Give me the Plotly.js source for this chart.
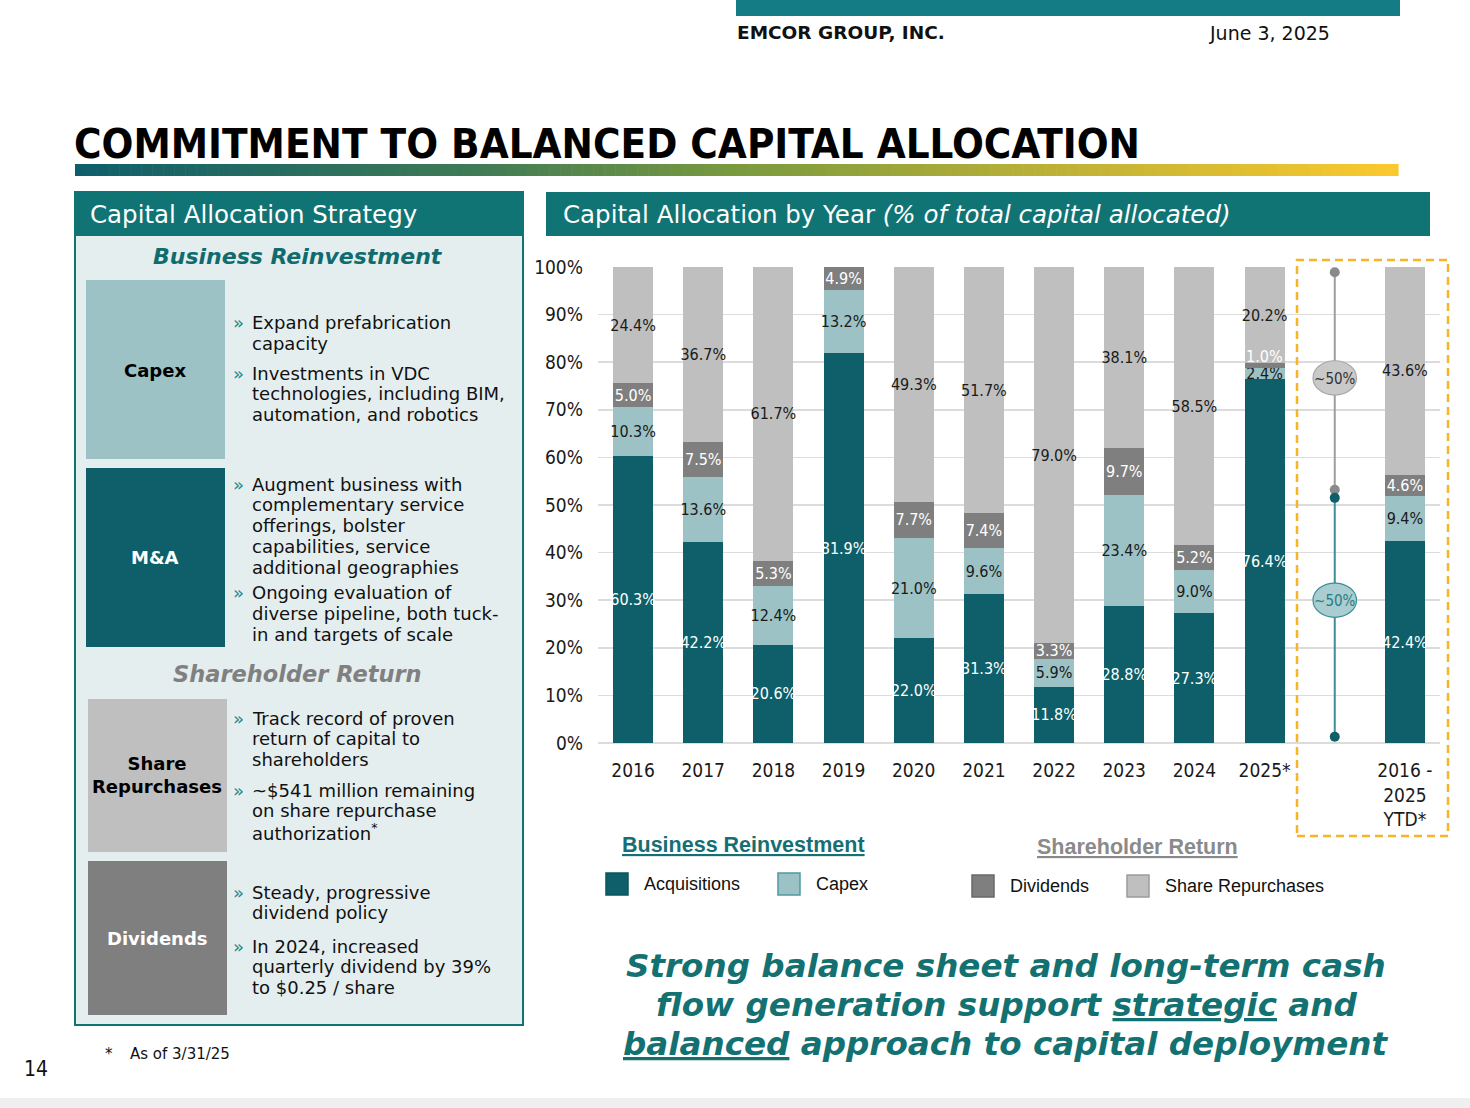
<!DOCTYPE html>
<html>
<head>
<meta charset="utf-8">
<script src="https://cdn.plot.ly/plotly-3.0.1.min.js"></script>
<style>
  html, body { margin: 0; padding: 0; background: #ffffff; }
  #chart { width: 1470px; height: 1108px; }
</style>
</head>
<body>
<div id="chart"></div>
<script>
// ---------------- DATA ----------------
const categories = ['2016', '2017', '2018', '2019', '2020', '2021', '2022', '2023', '2024', '2025*', ' ', 'total'];
const labelledCategories = ['2016', '2017', '2018', '2019', '2020', '2021', '2022', '2023', '2024', '2025*', 'total'];
const tickLabels = ['2016', '2017', '2018', '2019', '2020', '2021', '2022', '2023', '2024', '2025*', '2016 -<br>2025<br>YTD*'];
const barCategories = ['2016', '2017', '2018', '2019', '2020', '2021', '2022', '2023', '2024', '2025*', 'total'];
const acquisitions = [60.3, 42.2, 20.6, 81.9, 22.0, 31.3, 11.8, 28.8, 27.3, 76.4, 42.4];
const capex = [10.3, 13.6, 12.4, 13.2, 21.0, 9.6, 5.9, 23.4, 9.0, 2.4, 9.4];
const dividends = [5.0, 7.5, 5.3, 4.9, 7.7, 7.4, 3.3, 9.7, 5.2, 1.0, 4.6];
const repurchases = [24.4, 36.7, 61.7, 0, 49.3, 51.7, 79.0, 38.1, 58.5, 20.2, 43.6];
const seriesNames = ['Acquisitions', 'Capex', 'Dividends', 'Share Repurchases'];
const shareholderBracket = [98.9, 53.2];   // gray "~50%" bracket (top, bottom)
const reinvestBracket = [51.5, 1.3];       // teal "~50%" bracket (top, bottom)
const bracketLabel = '~50%';

// ---------------- STYLE ----------------
const W = 1470, H = 1108;
const X = p => p / W;
const Y = p => 1 - p / H;
const NARROW = '"Liberation Sans Narrow", "Arial Narrow", "DejaVu Sans Condensed", sans-serif';
const ARIAL = '"Liberation Sans", Arial, sans-serif';
const VERD = '"DejaVu Sans", Verdana, sans-serif';
const COND = '"DejaVu Sans Condensed", "DejaVu Sans", sans-serif';
const TEAL = '#117474';
const colors = ['#0e5f69', '#9cc2c5', '#7f7f7f', '#bfbfbf'];
const labelColors = ['#ffffff', '#1a1a1a', '#ffffff', '#1a1a1a'];
const borderColors = ['#0b5560', '#4f9aa0', '#6a6a6a', '#9c9c9c'];
const SMALL = 2; // segments thinner than this get their label placed just above

const seriesValues = [acquisitions, capex, dividends, repurchases];
const annotations = [];
const shapes = [];

const traces = seriesValues.map((vals, i) => {
  const xs = [], ys = [], tx = [];
  vals.forEach((v, k) => {
    if (v > 0) {
      xs.push(barCategories[k]); ys.push(v);
      if (v < SMALL && i > 1) {
        tx.push('');
        let base = 0; for (let s = 0; s <= i; s++) base += seriesValues[s][k];
        annotations.push({ xref: 'x', yref: 'y', x: barCategories[k], y: base + 1.5, text: v.toFixed(1) + '%',
          showarrow: false, yanchor: 'middle', font: { family: NARROW, size: 16, color: labelColors[i] } });
      } else {
        tx.push(v.toFixed(1) + '%');
      }
    }
  });
  return {
    type: 'bar', name: seriesNames[i], x: xs, y: ys,
    marker: { color: colors[i], line: { width: 0 } },
    text: tx, textposition: 'inside', insidetextanchor: 'middle', constraintext: 'none', textangle: 0,
    insidetextfont: { family: NARROW, size: 16, color: labelColors[i] },
    hoverinfo: 'skip', showlegend: false
  };
});

traces.push({
  type: 'scatter', mode: 'lines+markers',
  x: [' ', ' '], y: shareholderBracket,
  line: { color: '#9e9e9e', width: 2 },
  marker: { color: '#8a8a8a', size: 10 },
  hoverinfo: 'skip', showlegend: false
});
traces.push({
  type: 'scatter', mode: 'lines+markers',
  x: [' ', ' '], y: reinvestBracket,
  line: { color: '#3b8f96', width: 2 },
  marker: { color: '#0e5f69', size: 10 },
  hoverinfo: 'skip', showlegend: false
});

function rect(x0, y0, x1, y1, fill, line, lw, layer) {
  shapes.push({ type: 'rect', xref: 'paper', yref: 'paper', x0: X(x0), x1: X(x1), y0: Y(y1), y1: Y(y0),
    fillcolor: fill, line: { color: line || fill, width: lw || 0 }, layer: layer || 'below' });
}
function txt(x, y, text, font, xanchor, extra) {
  annotations.push(Object.assign({ xref: 'paper', yref: 'paper', x: X(x), y: Y(y), text: text, showarrow: false,
    xanchor: xanchor || 'left', yanchor: 'middle', font: font, align: xanchor === 'center' ? 'center' : 'left', borderpad: 0 }, extra || {}));
}

// top header
rect(736, 0, 1400, 16, '#137c84');
txt(736, 33, '<b>EMCOR GROUP, INC.</b>', { family: VERD, size: 18.5, color: '#111' });
txt(1208, 33, 'June 3, 2025', { family: VERD, size: 19, color: '#111' });

// title + gradient underline
txt(73, 143, '<b>COMMITMENT TO BALANCED CAPITAL ALLOCATION</b>', { family: COND, size: 41.7, color: '#000' });
(function () {
  const stops = [[0, [14, 94, 107]], [0.3, [62, 122, 85]], [0.5, [122, 154, 63]], [0.75, [191, 178, 54]], [1, [251, 201, 46]]];
  const n = 120, x0 = 75, x1 = 1398, w = (x1 - x0) / n;
  for (let i = 0; i < n; i++) {
    const t = (i + 0.5) / n;
    let k = 0; while (k < stops.length - 2 && t > stops[k + 1][0]) k++;
    const a = stops[k], b = stops[k + 1];
    const f = (t - a[0]) / (b[0] - a[0]);
    const c = a[1].map((v, j) => Math.round(v + (b[1][j] - v) * f));
    rect(x0 + i * w, 164, x0 + (i + 1) * w + 0.6, 176, 'rgb(' + c.join(',') + ')');
  }
})();

// left panel
rect(75, 192, 523, 1025, '#e5eeef', TEAL, 2);
rect(75, 192, 523, 236, TEAL, TEAL, 0);
txt(89, 215, 'Capital Allocation Strategy', { family: VERD, size: 24.5, color: '#fff' });
txt(298, 257, '<b><i>Business Reinvestment</i></b>', { family: VERD, size: 22, color: '#0f6b6e' }, 'center');
rect(86, 280, 225, 459, colors[1]);
txt(155, 370, '<b>Capex</b>', { family: VERD, size: 18, color: '#000' }, 'center');
rect(86, 468, 225, 647, colors[0]);
txt(155, 557, '<b>M&A</b>', { family: VERD, size: 18, color: '#fff' }, 'center');
txt(297, 674, '<b><i>Shareholder Return</i></b>', { family: VERD, size: 22.5, color: '#808080' }, 'center');
rect(88, 699, 227, 852, colors[3]);
txt(157, 775, '<b>Share<br>Repurchases</b>', { family: VERD, size: 18, color: '#000' }, 'center');
rect(88, 861, 227, 1015, colors[2]);
txt(157, 938, '<b>Dividends</b>', { family: VERD, size: 18, color: '#fff' }, 'center');

const bullets = [
  { y0: 323, lines: ['Expand prefabrication', 'capacity'] },
  { y0: 373, lines: ['Investments in VDC', 'technologies, including BIM,', 'automation, and robotics'] },
  { y0: 484, lines: ['Augment business with', 'complementary service', 'offerings, bolster', 'capabilities, service', 'additional geographies'] },
  { y0: 593, lines: ['Ongoing evaluation of', 'diverse pipeline, both tuck-', 'in and targets of scale'] },
  { y0: 718, lines: ['Track record of proven', 'return of capital to', 'shareholders'] },
  { y0: 790, lines: ['~$541 million remaining', 'on share repurchase', 'authorization<sup>*</sup>'] },
  { y0: 892, lines: ['Steady, progressive', 'dividend policy'] },
  { y0: 946, lines: ['In 2024, increased', 'quarterly dividend by 39%', 'to $0.25 / share'] }
];
bullets.forEach(b => {
  txt(232, b.y0, '»', { family: VERD, size: 18, color: '#1b8a90' });
  b.lines.forEach((l, j) => txt(251, b.y0 + j * 20.8, l, { family: VERD, size: 18, color: '#111' }));
});
txt(104, 1054, '*', { family: VERD, size: 15, color: '#111' });
txt(129, 1054, 'As of 3/31/25', { family: VERD, size: 15, color: '#111' });
txt(36, 1069, '14', { family: NARROW, size: 21, color: '#111' }, 'center');

// right header
rect(546, 192, 1430, 236, TEAL);
txt(562, 215, 'Capital Allocation by Year <i>(% of total capital allocated)</i>', { family: VERD, size: 24.5, color: '#fff' });

// dashed box
shapes.push({ type: 'rect', xref: 'paper', yref: 'paper', x0: X(1297), x1: X(1448), y0: Y(836), y1: Y(260),
  line: { color: '#f6b429', width: 2.5, dash: '8px,5px' }, fillcolor: 'rgba(0,0,0,0)', layer: 'above' });

// ~50% ellipses
shapes.push({ type: 'circle', xref: 'x', yref: 'y', x0: 9.69, x1: 10.31, y0: 73.1, y1: 80.3,
  fillcolor: '#c9c9c9', line: { color: '#a8a8a8', width: 1.2 }, layer: 'above',
  label: { text: bracketLabel, font: { family: NARROW, size: 15, color: '#333' }, textposition: 'middle center' } });
shapes.push({ type: 'circle', xref: 'x', yref: 'y', x0: 9.69, x1: 10.31, y0: 26.4, y1: 33.6,
  fillcolor: '#a9cdd0', line: { color: '#3b8f96', width: 1.2 }, layer: 'above',
  label: { text: bracketLabel, font: { family: NARROW, size: 15, color: '#2a7c83' }, textposition: 'middle center' } });

// legend (group titles + swatches) built from series arrays
txt(743, 845, '<b><u>Business Reinvestment</u></b>', { family: ARIAL, size: 21.5, color: '#166f73' }, 'center');
txt(1137, 847, '<b><u>Shareholder Return</u></b>', { family: ARIAL, size: 21.5, color: '#8a8a8a' }, 'center');
const legendPos = [[606, 884], [778, 884], [972, 886], [1127, 886]];
seriesNames.forEach((nm, i) => {
  const [lx, ly] = legendPos[i];
  rect(lx, ly - 11, lx + 22, ly + 11, colors[i], borderColors[i], 1.5, 'above');
  txt(lx + 37, ly, nm, { family: ARIAL, size: 18, color: '#111' });
});

// bottom statement
const stFont = { family: VERD, size: 32.6, color: '#137171' };
txt(1006, 966, '<b><i>Strong balance sheet and long-term cash</i></b>', stFont, 'center');
txt(1006, 1005, '<b><i>flow generation support <u>strategic</u> and</i></b>', stFont, 'center');
txt(1006, 1044, '<b><i><u>balanced</u> approach to capital deployment</i></b>', stFont, 'center');

// footer band
rect(0, 1098, 1470, 1108, '#efefef');

const layout = {
  width: W, height: H, autosize: false,
  margin: { l: 0, r: 0, t: 0, b: 0, pad: 0 },
  paper_bgcolor: '#ffffff', plot_bgcolor: 'rgba(0,0,0,0)',
  barmode: 'stack', bargap: 0.43,
  showlegend: false,
  xaxis: {
    domain: [X(598), X(1440)], type: 'category', categoryorder: 'array', categoryarray: categories,
    range: [-0.5, categories.length - 0.5],
    tickvals: labelledCategories, ticktext: tickLabels, ticks: '', showgrid: false, showline: false, zeroline: false,
    tickfont: { family: NARROW, size: 19, color: '#1a1a1a' }, ticklabelstandoff: 14, fixedrange: true
  },
  yaxis: {
    domain: [Y(743), Y(267)], range: [0, 100], dtick: 10, ticksuffix: '%', ticks: '',
    showgrid: true, gridcolor: '#dcdcdc', gridwidth: 1.5, zeroline: true, zerolinecolor: '#dcdcdc', zerolinewidth: 1.5,
    tickfont: { family: NARROW, size: 19, color: '#1a1a1a' }, ticklabelstandoff: 14, fixedrange: true
  },
  shapes: shapes,
  annotations: annotations,
  font: { family: ARIAL }
};

Plotly.newPlot('chart', traces, layout, { displayModeBar: false, staticPlot: true });
</script>
</body>
</html>
